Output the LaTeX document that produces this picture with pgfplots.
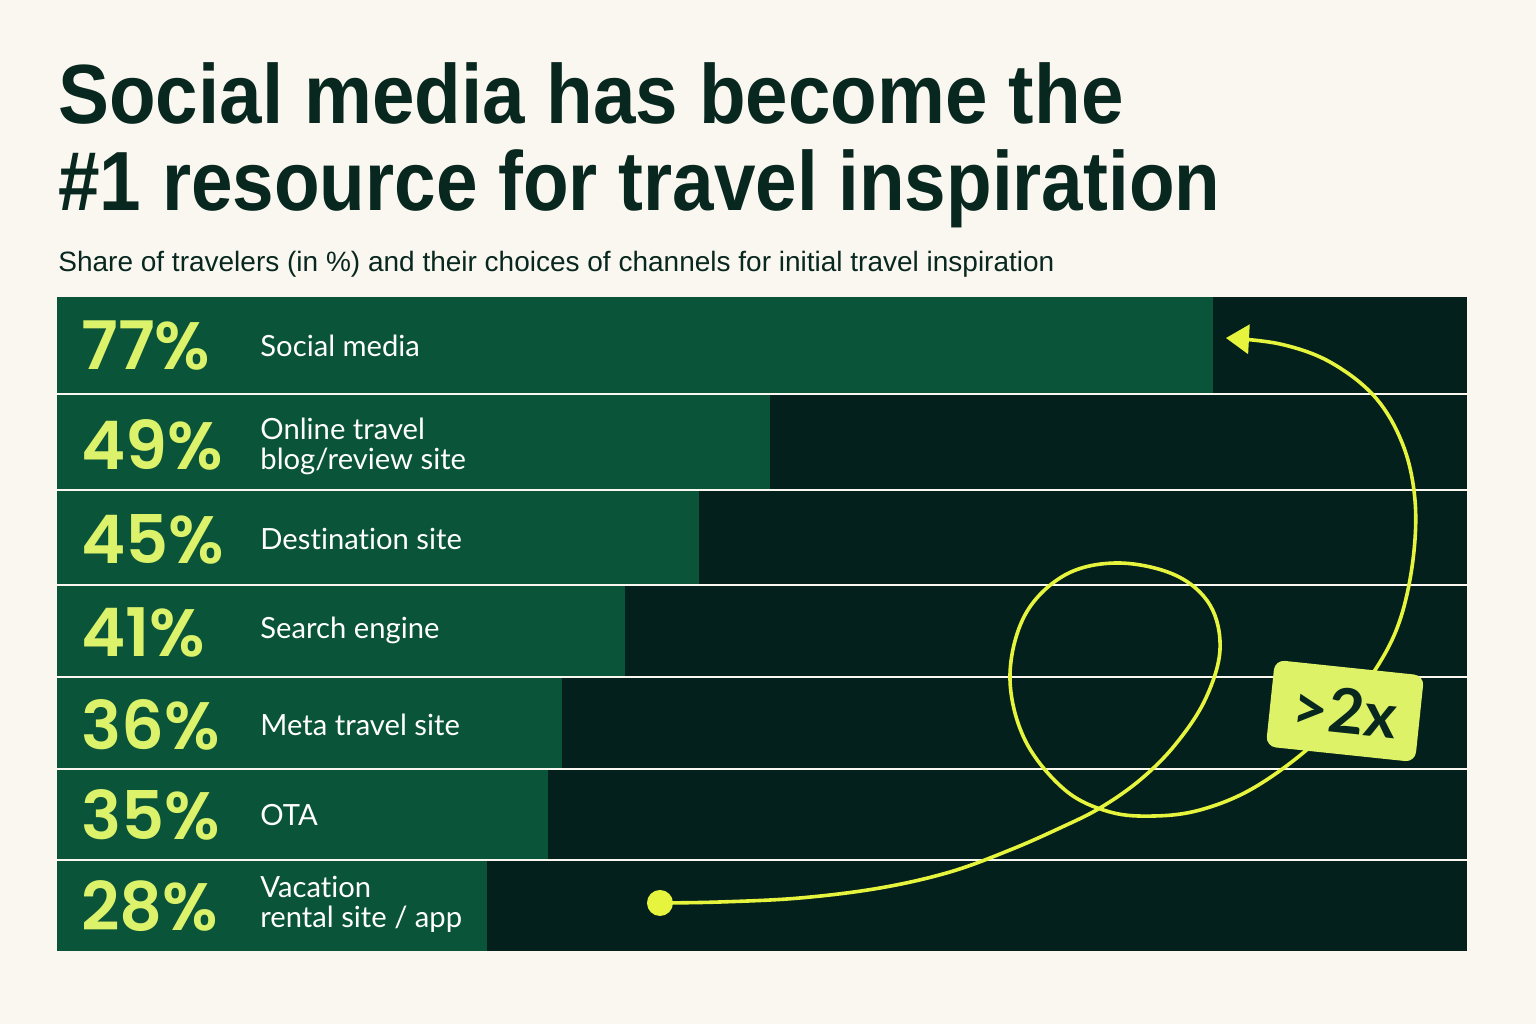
\documentclass[border=0pt]{standalone}
\usepackage{fontspec}
\usepackage{graphicx}
\usepackage{pgfplots}
\usepackage{pgfplotstable}
\pgfplotsset{compat=1.18}
\usetikzlibrary{arrows.meta}
\setmainfont{Liberation Sans}
\newfontfamily\titlefont{Liberation Sans}
\newfontfamily\pctfont{Poppins}[UprightFont={* SemiBold}]
\newfontfamily\labfont{Lato}[Ligatures={NoCommon}]
\definecolor{cream}{HTML}{FAF7F1}
\definecolor{titlec}{HTML}{08271F}
\definecolor{barg}{HTML}{0A5439}
\definecolor{darkbg}{HTML}{03201D}
\definecolor{pctc}{HTML}{DCF26A}
\definecolor{curvec}{HTML}{E6F43E}
\definecolor{badgec}{HTML}{DDF266}

% row centre and row height (in picture px), drawn bar length (share of full bar), printed value
\pgfplotstableread{
row  centre  h   len  full pct
0    345     96  82.0 100  77
1    442     94  50.6 100  49
2    537.5   93  45.5 100  45
3    631     90  40.3 100  41
4    723     90  35.8 100  36
5    814.5   89  34.8 100  35
6    906     90  30.5 100  28
}\data

\begin{document}
\begin{tikzpicture}
\fill[cream] (0,0) rectangle (768bp,-512bp);
\begin{scope}[x=0.5bp,y=-0.5bp]
\node[anchor=base west, inner sep=0, text=titlec] at (58,124)
  {\titlefont\bfseries\fontsize{42bp}{42bp}\selectfont\scalebox{0.909}[1]{Social media has become the}};
\node[anchor=base west, inner sep=0, text=titlec] at (58,211)
  {\titlefont\bfseries\fontsize{42bp}{42bp}\selectfont\scalebox{0.889}[1]{\#1 resource for travel inspiration}};
\node[anchor=base west, inner sep=0, text=titlec] at (58,272)
  {\fontsize{14bp}{16bp}\selectfont Share of travelers (in \%) and their choices of channels for initial travel inspiration};
\end{scope}

\begin{axis}[
  at={(28.5bp,-475.5bp)}, anchor=south west,
  width=705bp, height=327bp, scale only axis,
  xmin=0, xmax=100, ymin=297, ymax=951, y dir=reverse,
  axis lines=none, clip=false,
  xbar,
]
% Social media
\addplot[fill=darkbg, draw=none, bar shift=0pt, bar width=96] coordinates {(100,345)};
\addplot[fill=barg,   draw=none, bar shift=0pt, bar width=96] coordinates {(82.0,345)};
% Online travel blog/review site
\addplot[fill=darkbg, draw=none, bar shift=0pt, bar width=94] coordinates {(100,442)};
\addplot[fill=barg,   draw=none, bar shift=0pt, bar width=94] coordinates {(50.6,442)};
% Destination site
\addplot[fill=darkbg, draw=none, bar shift=0pt, bar width=93] coordinates {(100,537.5)};
\addplot[fill=barg,   draw=none, bar shift=0pt, bar width=93] coordinates {(45.5,537.5)};
% Search engine
\addplot[fill=darkbg, draw=none, bar shift=0pt, bar width=90] coordinates {(100,631)};
\addplot[fill=barg,   draw=none, bar shift=0pt, bar width=90] coordinates {(40.3,631)};
% Meta travel site
\addplot[fill=darkbg, draw=none, bar shift=0pt, bar width=90] coordinates {(100,723)};
\addplot[fill=barg,   draw=none, bar shift=0pt, bar width=90] coordinates {(35.8,723)};
% OTA
\addplot[fill=darkbg, draw=none, bar shift=0pt, bar width=89] coordinates {(100,814.5)};
\addplot[fill=barg,   draw=none, bar shift=0pt, bar width=89] coordinates {(34.8,814.5)};
% Vacation rental site / app
\addplot[fill=darkbg, draw=none, bar shift=0pt, bar width=90] coordinates {(100,906)};
\addplot[fill=barg,   draw=none, bar shift=0pt, bar width=90] coordinates {(30.5,906)};

\tikzset{pct/.style={anchor=west, inner sep=0, text=pctc, font=\pctfont\fontsize{33.5bp}{33.5bp}\selectfont},
         lab/.style={anchor=west, inner sep=0, text=white, align=left, font=\labfont\fontsize{14.6bp}{15bp}\selectfont}}
\node[pct] at (axis cs:1.7,346) {77\%};
\node[pct] at (axis cs:1.7,445) {49\%};
\node[pct] at (axis cs:1.7,539) {45\%};
\node[pct] at (axis cs:1.7,632) {41\%};
\node[pct] at (axis cs:1.7,725) {36\%};
\node[pct] at (axis cs:1.7,815) {35\%};
\node[pct] at (axis cs:1.7,906) {28\%};
\node[lab] at (axis cs:14.4,346) {Social media};
\node[lab] at (axis cs:14.4,446) {Online travel\\blog/review site};
\node[lab] at (axis cs:14.4,539) {Destination site};
\node[lab] at (axis cs:14.4,630) {Search engine};
\node[lab] at (axis cs:14.4,725) {Meta travel site};
\node[lab] at (axis cs:14.4,815) {OTA};
\node[lab] at (axis cs:14.4,904) {Vacation\\rental site / app};
\end{axis}

\begin{scope}[x=0.5bp,y=-0.5bp]
\draw[curvec, line width=1.8bp, -{Triangle[length=11.5bp,width=14.5bp]}]
  plot[smooth, tension=0.6] coordinates {
  (660,903) (720,902) (800,898) (880,888) (950,872) (1010,850) (1060,828) (1100,808)
  (1140,780) (1175,745) (1205,700) (1220,650) (1210,605) (1175,575) (1118,563)
  (1065,575) (1025,615) (1010,677) (1025,740) (1065,790) (1110,812) (1155,816)
  (1200,810) (1250,790) (1303,753) (1340,715) (1377,667) (1400,620) (1413,560)
  (1415,500) (1403,445) (1375,397) (1330,362) (1280,344) (1226,338)};
\fill[curvec] (660,903) circle (6.5bp);
\node[rotate=-6, fill=badgec, rounded corners=5bp, minimum width=75bp, minimum height=43.5bp,
      inner sep=0, text=titlec] at (1345,711)
  {\labfont\bfseries\fontsize{31bp}{31bp}\selectfont >2x};
\end{scope}
\end{tikzpicture}
\end{document}
